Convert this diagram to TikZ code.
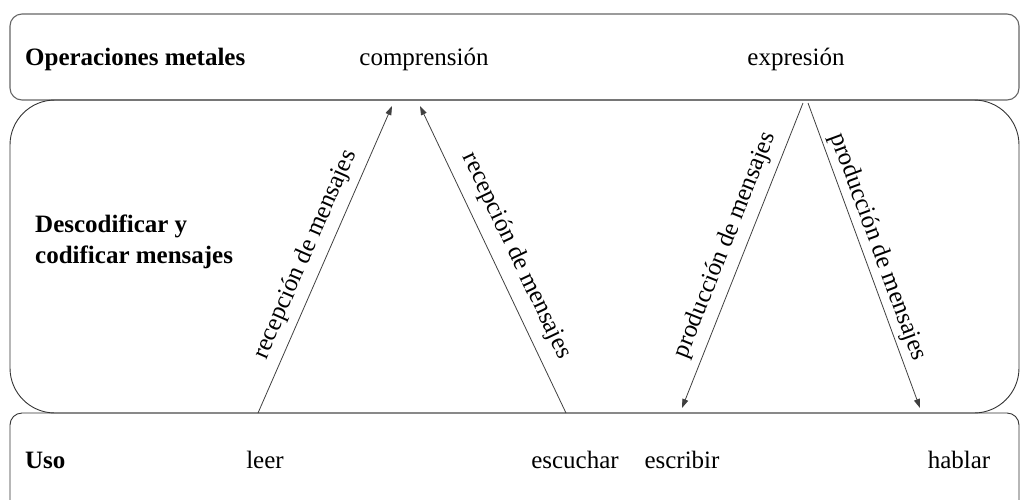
\documentclass[tikz,border=0pt]{standalone}
\usepackage{fontspec}
\setmainfont{Liberation Serif}
\usetikzlibrary{arrows.meta}

\begin{document}
\begin{tikzpicture}[x=1pt,y=-1pt,
  txt/.style={font=\fontsize{25}{31}\selectfont, inner sep=0pt, anchor=base},
  hdr/.style={font=\fontsize{25}{31}\selectfont\bfseries, inner sep=0pt, anchor=base west},
  topframe/.style={draw=black!60, line width=1.1pt},
  frame/.style={draw=black!80, line width=0.9pt},
  flow/.style={draw=black!75, line width=0.8pt, -{Triangle[length=9pt,width=6pt]}},
  lab/.style={font=\fontsize{25}{31}\selectfont, sloped, above, inner sep=8pt, pos=0.49}]

\useasboundingbox (0,0) rectangle (1021,499);

% the three bands
\begin{scope}
  \clip (0,0) rectangle (1021,499);
  \draw[topframe, rounded corners=12pt] (10,14) rectangle (1019,100);
  \draw[frame, rounded corners=45pt] (10,100) rectangle (1019,413);
  \draw[frame, rounded corners=12pt] (10,413) rectangle (1019,540);
\end{scope}

% band titles
\node[hdr] (ops) at (25,65) {Operaciones metales};
\node[font=\fontsize{25}{31}\selectfont\bfseries, inner sep=0pt, anchor=north west, align=left] (dec) at (35,214.5) {Descodificar y\\codificar mensajes};
\node[hdr] (uso) at (25,468) {Uso};

% operations
\node[txt] (comp) at (424,65) {comprensión};
\node[txt] (expr) at (796,65) {expresión};

% uses
\node[txt] (leer) at (265,468) {leer};
\node[txt] (escu) at (575,468) {escuchar};
\node[txt] (escr) at (682,468) {escribir};
\node[txt] (habl) at (959,468) {hablar};

% connector ends
\coordinate (r1s) at (258,413);
\coordinate (r1e) at (392,106);
\coordinate (r2s) at (566,413);
\coordinate (r2e) at (420,106);
\coordinate (p1s) at (803,103);
\coordinate (p1e) at (682,408);
\coordinate (p2s) at (808,103);
\coordinate (p2e) at (920,408);

\draw[flow] (r1s) -- node[lab] (l1) {recepción de mensajes} (r1e);
\draw[flow] (r2s) -- node[lab, pos=0.48, inner sep=11pt] (l2) {recepción de mensajes} (r2e);
\draw[flow] (p1s) -- node[lab] (l3) {producción de mensajes} (p1e);
\draw[flow] (p2s) -- node[lab, inner sep=4pt] (l4) {producción de mensajes} (p2e);
\end{tikzpicture}
\end{document}
